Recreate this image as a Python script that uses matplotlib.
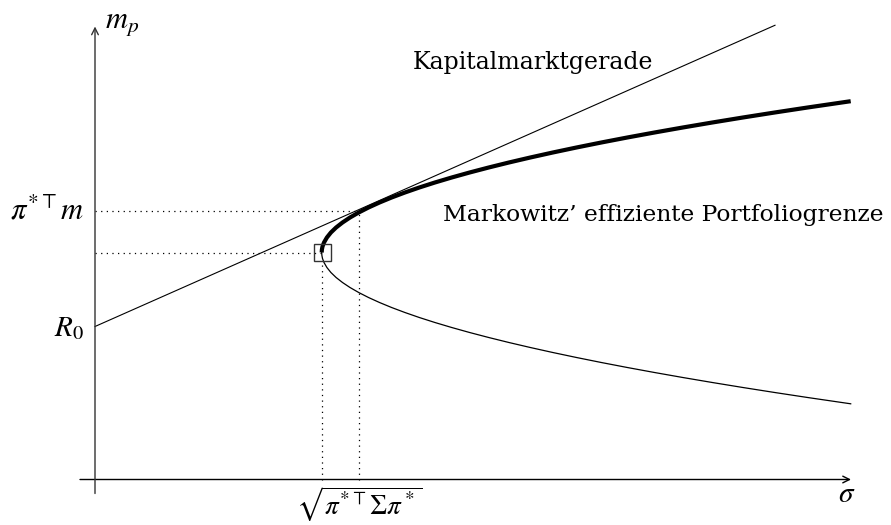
import matplotlib
matplotlib.use('Agg')
import matplotlib.pyplot as plt
from matplotlib.patches import Rectangle

plt.rcParams['mathtext.fontset'] = 'stix'
plt.rcParams['font.family'] = ['DejaVu Serif']

# values (sigma on x, m_p on y)
R0 = 1.53
sigma_min, m_min = 2.27, 2.27          # vertex of the frontier (box)
sigma_tan, m_tan = 2.64, 2.69          # tangent portfolio
cml_end_sigma = 6.80
cml_slope = 0.443

# frontier, read at a set of points along the curve
frontier_sigma = [2.267, 2.269, 2.275, 2.29, 2.319, 2.359, 2.411, 2.475, 2.55,
                  2.637, 2.735, 2.845, 2.966, 3.099, 3.243, 3.399, 3.567, 3.746,
                  3.937, 4.139, 4.353, 4.578, 4.815, 5.063, 5.323, 5.595, 5.878,
                  6.173, 6.479, 6.797, 7.126, 7.557]
frontier_upper = [2.27, 2.30, 2.33, 2.37, 2.42, 2.47, 2.52, 2.57, 2.62, 2.67,
                  2.72, 2.77, 2.82, 2.87, 2.92, 2.97, 3.02, 3.07, 3.12, 3.17,
                  3.22, 3.27, 3.32, 3.37, 3.42, 3.47, 3.52, 3.57, 3.62, 3.67,
                  3.72, 3.783]
frontier_lower = [2.27, 2.24, 2.21, 2.17, 2.12, 2.07, 2.02, 1.97, 1.92, 1.87,
                  1.82, 1.77, 1.72, 1.67, 1.62, 1.57, 1.52, 1.47, 1.42, 1.37,
                  1.32, 1.27, 1.22, 1.17, 1.12, 1.07, 1.02, 0.97, 0.92, 0.87,
                  0.82, 0.757]

fig = plt.figure(figsize=(8.91, 5.25), dpi=100)
ax = fig.add_axes([0, 0, 1, 1])
ax.set_xlim(-0.95, 7.96)
ax.set_ylim(-0.455, 4.795)
ax.axis('off')

# axes with arrows
ax.annotate('', xy=(7.56, 0), xytext=(-0.15, 0),
            arrowprops=dict(arrowstyle='->', lw=1.0, color='black', mutation_scale=12,
                            shrinkA=0, shrinkB=0))
ax.annotate('', xy=(0, 4.53), xytext=(0, -0.14),
            arrowprops=dict(arrowstyle='->', lw=1.0, color='#333333', mutation_scale=12,
                            shrinkA=0, shrinkB=0))

# dotted guides
dots = dict(color='black', lw=0.9, linestyle=(0, (1, 3.5)))
ax.plot([0, sigma_tan], [m_tan, m_tan], **dots)
ax.plot([sigma_tan, sigma_tan], [0, m_tan], **dots)
ax.plot([0, sigma_min], [m_min, m_min], **dots)
ax.plot([sigma_min, sigma_min], [0, m_min - 0.085], **dots)

# capital market line
ax.plot([0, cml_end_sigma], [R0, R0 + cml_slope * cml_end_sigma], color='black', lw=0.8)

# frontier
ax.plot(frontier_sigma, frontier_lower, color='black', lw=0.9)
ax.plot(frontier_sigma, frontier_upper, color='black', lw=3.0,
        solid_capstyle='butt', solid_joinstyle='round')

# minimum variance box
ax.add_patch(Rectangle((sigma_min - 0.085, m_min - 0.085), 0.17, 0.17,
                       fill=False, edgecolor='#333333', lw=1.0, zorder=5))

# labels
ax.text(0.10, 4.575, r'$m_p$', fontsize=22, ha='left', va='center')
ax.text(7.52, -0.15, r'$\sigma$', fontsize=21, ha='center', va='center')
ax.text(-0.11, m_tan, r'$\pi^{*\top} m$', fontsize=22, ha='right', va='center')
ax.text(-0.11, R0 - 0.02, r'$R_0$', fontsize=21, ha='right', va='center')
ax.text(sigma_tan, -0.25, r'$\sqrt{\pi^{*\top}\Sigma\pi^*}$', fontsize=19.5,
        ha='center', va='center')
ax.text(3.18, 4.17, 'Kapitalmarktgerade', fontsize=17, ha='left', va='center')
ax.text(3.48, 2.64, 'Markowitz\u2019 effiziente Portfoliogrenze', fontsize=16.8,
        ha='left', va='center')

fig.savefig('out.png', dpi=100)
